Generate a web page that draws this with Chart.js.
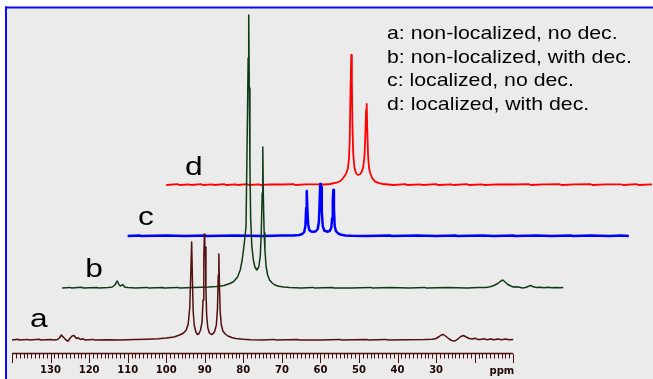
<!DOCTYPE html>
<html><head><meta charset="utf-8">
<script src="https://cdn.jsdelivr.net/npm/chart.js@4.4.1/dist/chart.umd.min.js"></script>
<style>html,body{margin:0;padding:0;background:#fff;overflow:hidden}#wrap{position:relative;width:653px;height:379px}</style>
</head><body><div id="wrap"><canvas id="c" width="653" height="379"></canvas></div>
<script>
// ---------- data ----------
const AXIS_FROM = 140, AXIS_TO = 10;            // ppm range of the drawn axis
const TICK_VALUES = [130,120,110,100,90,80,70,60,50,40,30];
const TICK_LABELS = ['130','120','110','100','90','80','70','60','50','40','30'];
const AXIS_UNIT = 'ppm';
const TRACE_NAMES = ['a','b','c','d'];
const LEGEND_LINES = ['a: non-localized, no dec.','b: non-localized, with dec.','c: localized, no dec.','d: localized, with dec.'];

// [ppm, intensity]
const TRACE_A = [[140,0],[138.5,0.8],[138,0],[136,0.6],[135.5,0],[133,0.8],[132.5,0],[130,0.5],[129,0],[128.2,0.6],[127.7,2],[127.2,5],[126.6,2.5],[126,0],[125.5,-1.2],[125,1.5],[124.4,4],[123.9,4.5],[123.3,1.5],[122.8,2.2],[122.3,0.5],[121.7,1.2],[121,0],[119,0.6],[118.5,0],[115,0.3],[112,0],[108,0.5],[105,0.8],[102,1.2],[100,2],[98,3],[96.5,5],[95.5,7],[94.8,10],[94.3,16],[93.9,32],[93.6,70],[93.4,98],[93.2,60],[93.0,28],[92.7,14],[92.3,8],[91.9,5.5],[91.5,6.5],[91.1,10],[90.7,18],[90.45,40],[90.25,80],[90.1,106],[90.0,88],[89.85,93],[89.7,50],[89.5,24],[89.2,12],[88.8,7],[88.3,5.5],[87.8,6.5],[87.4,9],[87.0,15],[86.7,32],[86.5,65],[86.35,86],[86.2,55],[86.0,28],[85.7,15],[85.3,9],[84.7,6],[84.0,4],[83.0,2.5],[82,1.5],[80,0.8],[78,0.3],[75,0],[72,0.6],[71.5,0],[66,0.5],[65.5,0],[60,0],[55,0.6],[54.5,0],[48,0.5],[47.5,0],[43,0.6],[42.5,0],[38,0.3],[33,0.5],[31,0.8],[30,1.5],[29.2,3.5],[28.6,5.2],[28.1,5.5],[27.4,3.5],[26.6,1],[25.8,-0.8],[25.1,-1],[24.4,0.8],[23.6,3.5],[22.9,4.5],[22.2,3],[21.4,1.5],[20.6,1],[19.9,1.8],[19.2,0.6],[18.5,0.4],[17.6,1.2],[16.8,0.3],[15.8,1],[15,0.2],[14,1],[13,0.3],[12,0.9],[11,0.2],[10,0.5]];

const TRACE_B = [[140,0],[138,0.6],[137.5,0],[135,0.8],[134.5,0],[131,0.5],[130.5,0],[128,0.6],[127,1],[126.3,3],[125.7,7],[125.2,3],[124.8,2],[124.3,3.5],[123.8,1],[123,0.5],[121,0],[118,0.6],[117.5,0],[114,0.5],[113.5,0],[110,0.6],[109.5,0],[106,0.5],[104,0.8],[102,1],[100,1.5],[98,2.5],[96.5,4.5],[95.5,6.5],[94.5,11],[93.8,18],[93.3,28],[92.9,40],[92.6,50],[92.3,62],[92.0,150],[91.75,230],[91.6,273],[91.45,200],[91.28,120],[91.1,70],[90.8,42],[90.4,28],[90.0,21],[89.5,18],[89.0,21],[88.6,32],[88.35,55],[88.1,95],[87.95,141],[87.8,90],[87.6,55],[87.4,38],[87.1,22],[86.7,13],[86.2,8],[85.5,5],[84.8,3],[83.8,1.8],[82.5,1],[81,0.5],[78,0],[75,0.6],[74.5,0],[70,0.5],[69.5,0],[65,0],[60,0.6],[59.5,0],[55,0.5],[50,0],[46,0.6],[45.5,0],[40,0.5],[35,0],[32,0.5],[30,0.6],[29,1.2],[28,2.5],[27,4.5],[26.2,7],[25.7,8],[25.1,6],[24.4,3.5],[23.6,2],[23,1],[22.2,1.2],[21.4,0.8],[20.6,0],[19.8,0.5],[19,1.8],[18.4,2.5],[17.8,1.2],[17,0.6],[16,0.8],[15,0.3],[14,0.7],[13,0.2],[12,0.6],[11,0.3],[10,0.4]];

const TRACE_C = [[140,0],[137,0.5],[136.5,0],[130,0.4],[125,0],[120,0.5],[119.5,0],[112,0.4],[105,0],[100,0.4],[97,0.6],[95.5,1],[94.7,2],[94.2,4],[93.9,10],[93.7,28],[93.55,45],[93.4,28],[93.2,12],[92.9,6],[92.4,4.5],[91.8,4.3],[91.2,4.8],[90.7,7],[90.4,14],[90.2,35],[90.05,52],[89.9,46],[89.8,49],[89.65,25],[89.4,10],[89.0,5.5],[88.3,4.3],[87.6,5],[87.2,8],[86.95,18],[86.8,35],[86.65,46],[86.5,28],[86.3,10],[86.0,5],[85.4,2.5],[84.6,1.2],[83.5,0.6],[82,0.2],[78,0],[72,0.5],[71.5,0],[65,0.4],[60,0],[55,0.5],[54.5,0],[48,0.4],[45,0],[40,0.5],[39.5,0],[34,0.4],[30,0],[25,0.5],[24.5,0],[20,0.4],[15,0],[12,0.4],[10,0]];

const TRACE_D = [[140,0],[137,0.8],[136.5,0],[134,0.6],[133.5,0],[131,0.9],[130.5,0],[128,0.7],[127.5,0],[125,0.8],[124.5,0],[122,0.6],[121.5,0],[119,0.8],[118.5,0],[116,0.7],[115.5,0],[113,0.6],[110,0.5],[107,0.8],[106.5,0],[104,0.6],[101,0.7],[99,0.5],[97.5,1],[95.8,2.3],[94.8,4],[94.1,7],[93.4,11],[92.9,16],[92.6,26],[92.4,45],[92.2,95],[92.0,130],[91.85,105],[91.7,60],[91.5,32],[91.2,18],[90.8,12],[90.3,10],[89.8,10.5],[89.3,13],[88.9,18],[88.6,28],[88.35,50],[88.15,75],[88.0,81],[87.85,55],[87.65,30],[87.4,17],[87.1,12],[86.6,7],[85.8,3.3],[84.8,1.8],[83.8,1],[82.5,0.5],[81,0],[78,0.8],[77.5,0],[74,0.6],[73.5,0],[70,0.9],[69.5,0],[66,0.6],[65.5,0],[62,0.8],[61.5,0],[58,0.6],[57.5,0],[54,0.7],[50,0.5],[46,0.9],[45.5,0],[42,0.6],[38,0.8],[37.5,0],[34,0.6],[30,0.8],[29.5,0],[26,0.6],[22,0.7],[21.5,0],[18,0.8],[17.5,0],[14,0.6],[12,0],[10,0.5]];

const TRACES = [TRACE_A, TRACE_B, TRACE_C, TRACE_D];

// ---------- stacked-plot styling ----------
const SHIFT_PPM = [0, 13, 30, 40];     // horizontal skew of each trace
const LIFT = [13, 65, 117, 168];       // vertical lift of each trace
const COLORS = ['#520f0f', '#0f3b14', '#0000ff', '#ff0000'];
const WIDTHS = [1.5, 1.5, 2.5, 1.8];
const AXIS_COLOR = '#4a0d0d';
const LETTER_AT = [[135.3, 13], [134, 11], [137.3, 11], [135.1, 10]]; // [ppm in own trace, height above baseline]

const datasets = TRACES.map((t, i) => ({
  label: TRACE_NAMES[i],
  data: t.map(([p, v]) => ({ x: p - SHIFT_PPM[i], y: v + LIFT[i] })),
  borderColor: COLORS[i],
  borderWidth: WIDTHS[i],
  pointRadius: 0,
  tension: 0,
  fill: false,
  borderJoinStyle: 'round'
}));

function stretchedText(ctx, text, x, y, font, sx, color) {
  ctx.save();
  ctx.font = font;
  ctx.fillStyle = color;
  ctx.textAlign = 'left';
  ctx.textBaseline = 'alphabetic';
  ctx.translate(x, y);
  ctx.scale(sx, 1);
  ctx.fillText(text, 0, 0);
  ctx.restore();
}

const framePlugin = {
  id: 'frame',
  beforeDraw(chart) {
    const ctx = chart.ctx;
    ctx.save();
    ctx.fillStyle = '#ffffff';
    ctx.fillRect(0, 0, chart.width, chart.height);
    ctx.fillStyle = '#ebebeb';
    ctx.fillRect(6, 8, chart.width - 6, chart.height - 8);
    ctx.fillStyle = '#0a0aff';
    ctx.fillRect(5, 6.5, chart.width - 5, 2);
    ctx.fillRect(5, 6.5, 2, chart.height - 6.5);
    ctx.restore();
  },
  afterDraw(chart) {
    const ctx = chart.ctx;
    const xs = chart.scales.x;
    const ys = chart.scales.y;
    const yb = chart.chartArea.bottom;
    ctx.save();
    ctx.strokeStyle = AXIS_COLOR;
    ctx.lineWidth = 1.6;
    ctx.beginPath();
    ctx.moveTo(xs.getPixelForValue(AXIS_FROM), yb + 0.5);
    ctx.lineTo(xs.getPixelForValue(AXIS_TO), yb + 0.5);
    ctx.stroke();
    ctx.lineWidth = 1;
    ctx.beginPath();
    for (let v = AXIS_TO; v <= AXIS_FROM; v++) {
      const px = Math.round(xs.getPixelForValue(v)) + 0.5;
      const len = (v % 10 === 0) ? 9 : 4.5;
      ctx.moveTo(px, yb + 1);
      ctx.lineTo(px, yb + 1 + len);
    }
    ctx.stroke();
    ctx.fillStyle = '#1e0606';
    ctx.font = 'bold 10px "DejaVu Sans"';
    ctx.textAlign = 'right';
    ctx.textBaseline = 'alphabetic';
    ctx.fillText(AXIS_UNIT, xs.getPixelForValue(AXIS_TO) + 1, yb + 21);
    TRACE_NAMES.forEach((n, i) => {
      const [ppm, up] = LETTER_AT[i];
      const x = xs.getPixelForValue(ppm - SHIFT_PPM[i]);
      const y = ys.getPixelForValue(LIFT[i] + up);
      stretchedText(ctx, n, x, y, '26px "Liberation Sans"', 1.22, '#000');
    });
    LEGEND_LINES.forEach((t, i) => {
      stretchedText(ctx, t, 387, 39 + i * 23.7, '18.5px "Liberation Sans"', 1.15, '#000');
    });
    ctx.restore();
  }
};

new Chart(document.getElementById('c'), {
  type: 'line',
  data: { datasets },
  options: {
    responsive: false,
    animation: false,
    devicePixelRatio: 1,
    layout: { padding: { left: 12, right: 1, top: 8, bottom: 0 } },
    plugins: { legend: { display: false }, tooltip: { enabled: false } },
    scales: {
      x: {
        type: 'linear', reverse: true, min: -26, max: 140,
        afterBuildTicks: s => { s.ticks = TICK_VALUES.map(v => ({ value: v })); },
        afterFit: s => { s.height = 26; },
        grid: { display: false, drawTicks: false },
        border: { display: false },
        ticks: {
          autoSkip: false, maxRotation: 0, padding: 11,
          color: '#1e0606',
          font: { family: 'DejaVu Sans', weight: 'bold', size: 10 },
          callback: v => TICK_LABELS[TICK_VALUES.indexOf(v)]
        }
      },
      y: { display: false, min: 0, max: 345 }
    }
  },
  plugins: [framePlugin]
});
</script>
</body></html>
